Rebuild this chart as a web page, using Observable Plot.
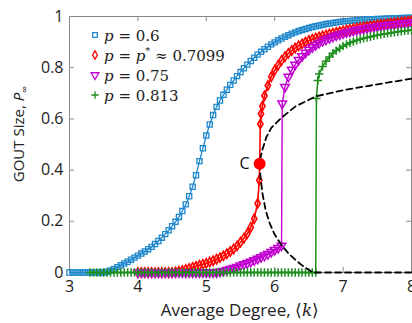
<!DOCTYPE html>
<html>
<head>
<meta charset="utf-8">
<script src="https://cdn.jsdelivr.net/npm/d3@7"></script>
<script src="https://cdn.jsdelivr.net/npm/@observablehq/plot@0.6"></script>
<style>
  html, body { margin: 0; padding: 0; background: #fff; }
  #chart { width: 412px; height: 323px; overflow: hidden; }
</style>
</head>
<body>
<div id="chart"></div>
<script>
// ---------- data ----------
const xTicks = [3, 4, 5, 6, 7, 8];
const yTicks = [0, 0.2, 0.4, 0.6, 0.8, 1];

// sample grid helper (k positions at 0.05 spacing)
const grid = (a, b) => d3.range(Math.round((b - a) / 0.05) + 1).map(i => +(a + i * 0.05).toFixed(2));

// p = 0.6 (blue squares)
const blueK = grid(3.00, 8.00);
const blueV = [
  0,0,0,0,0,0,0,0,0,0,0,
  0.003,0.008,0.014,0.021,0.028,0.035,0.042,0.050,0.058,0.066,
  0.074,0.082,0.091,0.100,0.111,0.123,0.136,0.150,0.165,0.181,
  0.198,0.217,0.240,0.266,0.298,0.335,0.380,0.435,0.485,0.535,
  0.578,0.615,0.647,0.672,0.694,0.714,0.733,0.750,0.767,0.783,
  0.798,0.812,0.826,0.839,0.851,0.862,0.872,0.882,0.891,0.899,
  0.907,0.914,0.921,0.927,0.933,0.938,0.943,0.947,0.951,0.955,
  0.959,0.962,0.965,0.968,0.971,0.973,0.975,0.977,0.979,0.981,
  0.982,0.983,0.984,0.985,0.986,0.987,0.988,0.988,0.989,0.990,
  0.990,0.991,0.992,0.992,0.993,0.993,0.994,0.994,0.995,0.995
];

// p = p* ≈ 0.7099 (red diamonds)
const redK = [...grid(4.00, 5.75), 5.775, 5.78, 5.79, 5.80, 5.82, ...grid(5.85, 8.00)];
const redV = [
  0,0,0,0,0,0,0,0,0,0,0,
  0.002,0.005,0.008,0.012,0.016,0.020,0.024,0.028,0.032,0.036,
  0.041,0.046,0.052,0.058,0.065,0.073,0.082,0.092,0.104,0.118,
  0.134,0.152,0.177,0.210,0.270,
  0.360,0.425,0.580,0.620,0.650,
  0.690,0.730,0.765,0.790,0.810,0.828,0.843,0.856,0.867,0.877,
  0.886,0.893,0.900,0.906,0.911,0.916,0.920,0.924,0.928,0.932,
  0.935,0.938,0.941,0.944,0.947,0.950,0.952,0.955,0.957,0.959,
  0.961,0.963,0.965,0.967,0.969,0.971,0.972,0.974,0.975,0.977,
  0.978,0.980,0.981,0.982
];

// p = 0.75 (purple down-triangles)
const purK = [...grid(4.00, 6.10), 6.11, ...grid(6.15, 8.00)];
const purV = [
  0,0,0,0,0,0,0,0,0,0,0,0,0,0,0,0,0,0,0,0,0,0,0,0,
  0.003,0.006,0.010,0.014,0.018,0.022,0.027,0.032,0.037,0.042,
  0.048,0.054,0.060,0.066,0.072,0.080,0.088,0.096,0.105,
  0.660,
  0.725,0.765,0.792,0.812,0.830,0.845,0.858,0.870,0.880,0.889,
  0.897,0.904,0.910,0.916,0.921,0.926,0.930,0.934,0.938,0.941,
  0.944,0.947,0.950,0.952,0.955,0.957,0.959,0.961,0.963,0.965,
  0.967,0.968,0.970,0.971,0.973,0.974,0.975,0.977
];

// p = 0.813 (green plus)
const grnK = [...grid(3.30, 6.60), 6.61, 6.63, ...grid(6.65, 8.00)];
const grnV = [
  0,0,0,0,0,0,0,0,0,0,0,0,0,0,0,0,0,0,0,0,0,0,0,0,0,0,0,0,0,0,0,0,0,0,
  0,0,0,0,0,0,0,0,0,0,0,0,0,0,0,0,0,0,0,0,0,0,0,0,0,0,0,0,0,0,0,0,0,
  0.680,0.750,
  0.775,0.805,0.825,0.842,0.856,0.867,0.876,0.884,0.891,0.897,
  0.902,0.907,0.911,0.915,0.918,0.921,0.924,0.927,0.930,0.932,
  0.934,0.936,0.938,0.940,0.942,0.944,0.945,0.947
];

// dashed boundary curve
const dashK = [8.00,7.50,7.00,6.60,6.30,6.10,5.95,5.88,5.82,5.785,5.78,5.79,5.82,5.87,5.93,6.00,6.10,6.20,6.30,6.40,6.50,6.56,7.00,8.00];
const dashV = [0.757,0.735,0.712,0.688,0.648,0.605,0.565,0.530,0.480,0.440,0.425,0.380,0.310,0.240,0.190,0.148,0.107,0.075,0.050,0.028,0.010,0,0,0];

// critical point C
const critK = [5.78];
const critV = [0.425];
const critLabel = ["C"];

const legendLabels = ["0.6", "p*", "0.75", "0.813"];

// ---------- build ----------
const zip = (K, V) => K.map((k, i) => ({k, v: V[i]}));
const blue = zip(blueK, blueV), red = zip(redK, redV), pur = zip(purK, purV), grn = zip(grnK, grnV);
const dash = zip(dashK, dashV);
const crit = zip(critK, critV).map((d, i) => ({...d, label: critLabel[i]}));

const C_BLUE = "#1f88cc", C_RED = "#ff0000", C_PUR = "#c000d0", C_GRN = "#1d8f1d", GRAY = "#8a8a8a";
const W = 412, H = 323, ML = 69, MR = 1, MT = 16, MB = 51;
const FW = W - ML - MR, FH = H - MT - MB;

const SYM = {
  blue: {symbol: "square", r: 2.9, sw: 1.3},
  red: {symbol: "diamond", r: 2.8, sw: 1.6},
  pur: {symbol: "triangle", r: 3.2, sw: 1.5},
  grn: {symbol: "plus", r: 2.8, sw: 1.5}
};

const plot = Plot.plot({
  width: W, height: H,
  marginLeft: ML, marginRight: MR, marginTop: MT, marginBottom: MB,
  style: {fontFamily: "Open Sans, sans-serif", fontSize: "16px", background: "white", color: "#222"},
  x: {domain: [3, 8]},
  y: {domain: [0, 1]},
  marks: [
    Plot.frame({stroke: GRAY}),
    Plot.axisX({ticks: xTicks, tickSize: 0, tickPadding: 8, label: null, tickFormat: d => String(d)}),
    Plot.axisY({ticks: yTicks, tickSize: 0, tickPadding: 6, label: null, tickFormat: d => String(d)}),
    Plot.tickY(yTicks, {y: d => d, stroke: GRAY, insetRight: FW - 5}),
    Plot.tickY(yTicks, {y: d => d, stroke: GRAY, insetLeft: FW - 5}),
    Plot.tickX(xTicks, {x: d => d, stroke: GRAY, insetTop: FH - 5}),
    Plot.tickX(xTicks, {x: d => d, stroke: GRAY, insetBottom: FH - 5}),

    Plot.line(blue, {x: "k", y: "v", stroke: C_BLUE, strokeWidth: 1.3}),
    Plot.dot(blue, {x: "k", y: "v", symbol: SYM.blue.symbol, r: SYM.blue.r, stroke: C_BLUE, strokeWidth: SYM.blue.sw, fill: "none"}),

    Plot.line(red, {x: "k", y: "v", stroke: C_RED, strokeWidth: 1.6}),
    Plot.dot(red.filter(d => d.k !== 5.78), {x: "k", y: "v", symbol: SYM.red.symbol, r: SYM.red.r, stroke: C_RED, strokeWidth: SYM.red.sw, fill: "none"}),

    Plot.line(pur, {x: "k", y: "v", stroke: C_PUR, strokeWidth: 1.4}),
    Plot.dot(pur, {x: "k", y: "v", symbol: SYM.pur.symbol, rotate: 180, r: SYM.pur.r, stroke: C_PUR, strokeWidth: SYM.pur.sw, fill: "none"}),

    Plot.line(grn, {x: "k", y: "v", stroke: C_GRN, strokeWidth: 1.5}),
    Plot.dot(grn, {x: "k", y: "v", symbol: SYM.grn.symbol, r: SYM.grn.r, stroke: C_GRN, strokeWidth: SYM.grn.sw}),

    Plot.line(dash, {x: "k", y: "v", stroke: "#000", strokeWidth: 1.8, strokeDasharray: "6,4"}),

    Plot.dot(crit, {x: "k", y: "v", r: 6, fill: C_RED, stroke: "none"}),
    Plot.text(crit, {x: "k", y: "v", text: "label", dx: -10, textAnchor: "end", fontSize: 16, fill: "#111"})
  ]
});

document.getElementById("chart").appendChild(plot);

// ---------- labels with italic math ----------
const svg = d3.select(plot);

// x label
const xl = svg.append("text").attr("x", 240).attr("y", 316).attr("text-anchor", "middle")
  .attr("font-family", "Open Sans, sans-serif").attr("font-size", 17).attr("fill", "#222");
xl.append("tspan").text("Average Degree, \u27E8");
xl.append("tspan").attr("font-family", "DejaVu Serif, serif").attr("font-style", "italic").text("k");
xl.append("tspan").text("\u27E9");

// y label
const yl = svg.append("text").attr("transform", "translate(24,134) rotate(-90)").attr("text-anchor", "middle")
  .attr("font-family", "Open Sans, sans-serif").attr("font-size", 15).attr("fill", "#222");
yl.append("tspan").text("GOUT Size, ");
yl.append("tspan").attr("font-style", "italic").text("P");
yl.append("tspan").attr("font-size", 10).attr("dy", 4).text("\u221E");

// legend
const legendSyms = [
  {sym: d3.symbolSquare, s: SYM.blue, color: C_BLUE, rot: 0},
  {sym: d3.symbolDiamond, s: SYM.red, color: C_RED, rot: 0},
  {sym: d3.symbolTriangle, s: SYM.pur, color: C_PUR, rot: 180},
  {sym: d3.symbolPlus, s: SYM.grn, color: C_GRN, rot: 0}
];
const lg = svg.append("g").attr("font-family", "DejaVu Serif, Liberation Serif, serif")
  .attr("font-size", 15).attr("fill", "#222").attr("text-anchor", "start");
legendSyms.forEach((s, i) => {
  const cy = 35 + i * 20;
  lg.append("path").attr("d", d3.symbol(s.sym, Math.PI * s.s.r * s.s.r * 0.8)())
    .attr("transform", `translate(95,${cy}) rotate(${s.rot})`)
    .attr("fill", "none").attr("stroke", s.color).attr("stroke-width", 1.3);
  const t = lg.append("text").attr("x", 104).attr("y", cy + 5.5).attr("text-anchor", "start");
  t.append("tspan").attr("font-style", "italic").text("p");
  if (legendLabels[i] === "p*") {
    t.append("tspan").text(" = ");
    t.append("tspan").attr("font-style", "italic").text("p");
    t.append("tspan").attr("font-size", 10).attr("dy", -7).text("*");
    t.append("tspan").attr("dy", 7).text(" \u2248 0.7099");
  } else {
    t.append("tspan").text(" = " + legendLabels[i]);
  }
});
</script>
</body>
</html>
